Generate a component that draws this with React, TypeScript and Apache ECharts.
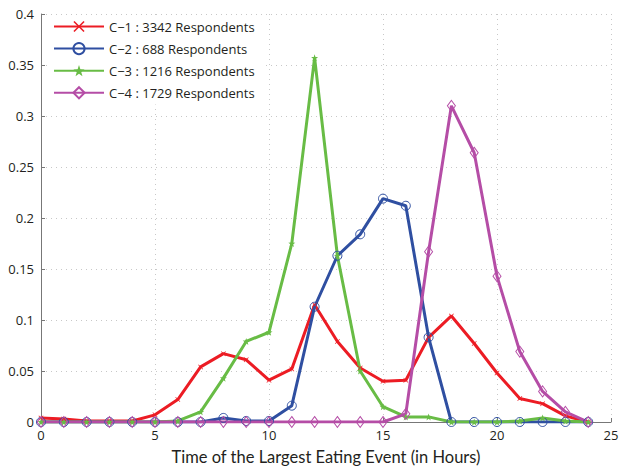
import React, { useEffect, useRef } from "react";
import * as echarts from "echarts";

const hours = [0,1,2,3,4,5,6,7,8,9,10,11,12,13,14,15,16,17,18,19,20,21,22,23,24];
const c1 = [0.004,0.003,0.001,0.001,0.001,0.007,0.022,0.054,0.067,0.061,0.041,0.052,0.115,0.079,0.053,0.040,0.041,0.083,0.104,0.077,0.048,0.023,0.018,0.006,0.000];
const c2 = [0,0,0,0,0,0,0,0,0.004,0.001,0.001,0.016,0.113,0.163,0.184,0.219,0.212,0.083,0,0,0,0,0,0,0];
const c3 = [0,0,0,0,0,0,0.001,0.010,0.043,0.079,0.088,0.175,0.357,0.163,0.050,0.015,0.005,0.005,0,0,0,0.001,0.004,0.001,0];
const c4 = [0,0,0,0,0,0,0,0,0,0,0,0,0,0,0,0,0.008,0.167,0.310,0.264,0.143,0.069,0.030,0.010,0];
const seriesNames = ["C\u22121 : 3342 Respondents","C\u22122 : 688 Respondents","C\u22123 : 1216 Respondents","C\u22124 : 1729 Respondents"];
const xTitle = "Time of the Largest Eating Event (in Hours)";

const STAR = "path://M50 0 L61.76 33.82 L97.55 34.55 L69.02 56.18 L79.39 90.45 L50 70 L20.61 90.45 L30.98 56.18 L2.45 34.55 L38.24 33.82 Z";
const XMARK = "path://M0 10 L10 0 L50 40 L90 0 L100 10 L60 50 L100 90 L90 100 L50 60 L10 100 L0 90 L40 50 Z";

export default function App() {
  const ref = useRef<HTMLDivElement>(null);
  useEffect(() => {
    if (!ref.current) return;
    const chart = echarts.init(ref.current, null, { renderer: "svg" });
    const font = "Open Sans";
    const mk = (d: number[]) => d.map((v, i) => [hours[i], v]);
    chart.setOption({
      animation: false,
      backgroundColor: "#ffffff",
      textStyle: { fontFamily: font },
      grid: { left: 41, right: 17, top: 14, bottom: 49 },
      legend: {
        orient: "vertical",
        left: 48,
        top: 15,
        itemWidth: 50,
        itemHeight: 14,
        itemGap: 9,
        padding: [5, 8, 5, 5],
        backgroundColor: "#ffffff",
        textStyle: { fontFamily: font, fontSize: 13, color: "#231f20" },
        data: seriesNames,
      },
      xAxis: {
        type: "value",
        min: 0,
        max: 25,
        interval: 5,
        name: xTitle,
        nameLocation: "middle",
        nameGap: 26,
        nameTextStyle: { fontFamily: "Lato", fontSize: 16.5, color: "#231f20" },
        axisLine: { onZero: false, lineStyle: { color: "#777777", width: 1 } },
        axisTick: { inside: true, length: 4, lineStyle: { color: "#777777" } },
        axisLabel: { fontFamily: font, fontSize: 13, color: "#231f20", margin: 6 },
        splitLine: { show: true, lineStyle: { color: "#c8c8c8", type: [1, 4], width: 1 } },
      },
      yAxis: {
        type: "value",
        min: 0,
        max: 0.4,
        interval: 0.05,
        axisLine: { show: true, lineStyle: { color: "#777777", width: 1 } },
        axisTick: { show: true, inside: true, length: 4, lineStyle: { color: "#777777" } },
        axisLabel: { fontFamily: font, fontSize: 13, color: "#231f20", margin: 7 },
        splitLine: { show: true, lineStyle: { color: "#c8c8c8", type: [1, 4], width: 1 } },
      },
      series: [
        {
          name: seriesNames[0],
          type: "line",
          data: mk(c1),
          symbol: XMARK,
          symbolSize: 5,
          lineStyle: { color: "#ec1c24", width: 3 },
          itemStyle: { color: "#ec1c24" },
        },
        {
          name: seriesNames[1],
          type: "line",
          data: mk(c2),
          symbol: "circle",
          symbolSize: 9,
          lineStyle: { color: "#2f4fa1", width: 3 },
          itemStyle: { color: "rgba(255,255,255,0)", borderColor: "#2f4fa1", borderWidth: 1 },
        },
        {
          name: seriesNames[2],
          type: "line",
          data: mk(c3),
          symbol: STAR,
          symbolSize: 7,
          lineStyle: { color: "#68bc45", width: 3 },
          itemStyle: { color: "#68bc45" },
        },
        {
          name: seriesNames[3],
          type: "line",
          data: mk(c4),
          symbol: "diamond",
          symbolSize: [8, 11],
          lineStyle: { color: "#b54da6", width: 3 },
          itemStyle: { color: "rgba(255,255,255,0)", borderColor: "#b54da6", borderWidth: 1 },
        },
      ],
    });
    return () => chart.dispose();
  }, []);
  return <div ref={ref} style={{ width: 628, height: 471, position: "absolute", left: 0, top: 0 }} />;
}
